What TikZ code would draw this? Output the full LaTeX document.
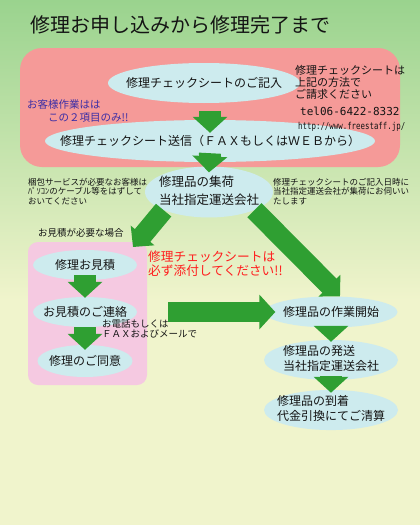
\documentclass[tikz,border=0pt]{standalone}
\usepackage{fontspec}
\setmainfont{Noto Sans CJK JP}
\newfontfamily\mono{DejaVu Sans Mono}
\usetikzlibrary{arrows.meta,shapes.geometric}

\definecolor{bggreen}{HTML}{9AD38E}
\definecolor{bgcream}{HTML}{F0F4CC}
\definecolor{salmon}{HTML}{F59A98}
\definecolor{blush}{HTML}{F5C9E1}
\definecolor{podblue}{HTML}{CDEBEE}
\definecolor{flowgreen}{HTML}{2F9F32}
\definecolor{ink}{HTML}{141414}
\definecolor{indigo}{HTML}{3A2DA6}
\definecolor{alert}{HTML}{FF1E1E}

\newcommand{\inside}[1]{\makebox[0pt]{#1}}
\newcommand{\twolines}[2]{\makebox[0pt]{\begin{tabular}{@{}l@{}}#1\\#2\end{tabular}}}

\begin{document}
\begin{tikzpicture}[x=1pt,y=-1pt]
\tikzstyle{pod} = [ellipse, fill=podblue, inner sep=0pt, text=ink, font=\fontsize{12}{14}\selectfont]
\tikzstyle{flow} = [line width=22pt, draw=flowgreen, -{Triangle[length=16pt,width=34pt]}]
\tikzstyle{slant} = [flow, line width=20pt, -{Triangle[length=15pt,width=30pt]}]
\tikzstyle{note} = [anchor=north west, inner sep=0pt, align=left, text=ink]

\useasboundingbox (0,0) rectangle (420,525);
\shade[top color=bggreen, bottom color=bgcream] (0,0) rectangle (420,300);
\fill[bgcream] (0,299.5) rectangle (420,525);
\fill[salmon, rounded corners=22pt] (20,48) rectangle (400,167);
\fill[blush, rounded corners=10pt] (28,242) rectangle (147,385);

\node[anchor=west, inner sep=0pt, text=ink, font=\fontsize{20}{24}\selectfont] (title) at (30,25) {修理お申し込みから修理完了まで};

\node[pod, minimum width=192pt, minimum height=40pt] (entry) at (204,83) {\inside{修理チェックシートのご記入}};
\node[pod, minimum width=330pt, minimum height=42pt] (send) at (210,141) {\inside{修理チェックシート送信（ＦＡＸもしくはＷＥＢから）}};
\node[pod, minimum width=128pt, minimum height=46pt, font=\fontsize{12.5}{18}\selectfont] (pickup) at (209,192) {\twolines{修理品の集荷}{当社指定運送会社}};
\node[pod, minimum width=104pt, minimum height=30pt] (estimate) at (85,265) {\inside{修理お見積}};
\node[pod, minimum width=104pt, minimum height=30pt] (contact) at (85,312) {\inside{お見積のご連絡}};
\node[pod, minimum width=95pt, minimum height=32pt] (agree) at (85,361) {\inside{修理のご同意}};
\node[pod, minimum width=133pt, minimum height=31pt] (start) at (331,312) {\inside{修理品の作業開始}};
\node[pod, minimum width=134pt, minimum height=34pt, font=\fontsize{12}{13.5}\selectfont] (ship) at (331,360) {\twolines{修理品の発送}{当社指定運送会社}};
\node[pod, minimum width=134pt, minimum height=34pt, font=\fontsize{12}{13.5}\selectfont] (arrive) at (331,410) {\twolines{修理品の到着}{代金引換にてご清算}};

\node[note, font=\fontsize{11}{12}\selectfont] (howto) at (295,65) {修理チェックシートは\\上記の方法で\\ご請求ください};
\node[anchor=west, inner sep=0pt, text=ink, font=\mono\fontsize{11}{12}\selectfont] (tel) at (300,111) {tel06-6422-8332};
\node[anchor=west, inner sep=0pt, text=ink, font=\mono\fontsize{9.5}{11}\selectfont] (web) at (298,127) {\scalebox{0.78}[1]{http://www.freestaff.jp/}};
\node[note, text=indigo, font=\fontsize{10.5}{13}\selectfont] (customer) at (27,99) {お客様作業はは\\　　この２項目のみ!!};
\node[note, font=\fontsize{8.5}{9.5}\selectfont] (packing) at (28,178) {梱包サービスが必要なお客様は\\ﾊﾟｿｺﾝのケーブル等をはずして\\おいてください};
\node[note, font=\fontsize{8.5}{9.5}\selectfont] (visit) at (273,178) {修理チェックシートのご記入日時に\\当社指定運送会社が集荷にお伺いい\\たします};
\node[anchor=west, inner sep=0pt, text=ink, font=\fontsize{9.5}{11}\selectfont] (ifneeded) at (38,233) {お見積が必要な場合};
\node[note, text=alert, font=\fontsize{12.7}{13.5}\selectfont] (attach) at (148,251) {修理チェックシートは\\必ず添付してください!!};
\node[note, font=\fontsize{9.5}{10}\selectfont] (phone) at (102,319) {お電話もしくは\\ＦＡＸおよびメールで};

\coordinate (estin) at (133,247);

\draw[flow] ([xshift=6pt,yshift=-8pt]entry.south) -- ([yshift=-13pt]send.north);
\draw[flow] ([yshift=9pt]send.south) -- ([yshift=-6pt]pickup.north);
\draw[slant] (pickup.south west) -- (estin);
\draw[slant] (pickup.south east) -- ([xshift=9pt]start.north);
\draw[flow] ([yshift=5pt]estimate.south) -- ([yshift=-1pt]contact.north);
\draw[flow] (contact.south) -- ([yshift=-5pt]agree.north);
\draw[flow, line width=20pt] ([xshift=31pt]contact.east) -- ([xshift=11pt]start.west);
\draw[flow] (start.south) -- ([yshift=-2pt]ship.north);
\draw[flow] ([yshift=4pt]ship.south) -- ([yshift=-3pt]arrive.north);

\end{tikzpicture}
\end{document}
